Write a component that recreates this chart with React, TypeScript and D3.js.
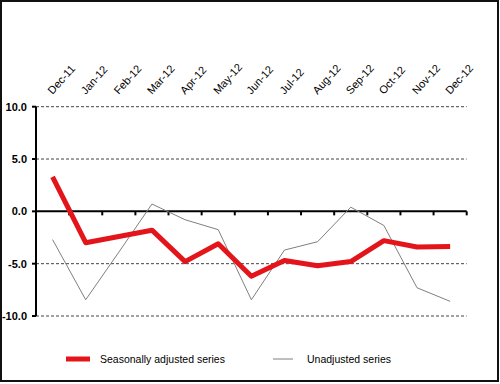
import React from 'react';
import * as d3 from 'd3';

const months = [
  'Dec-11', 'Jan-12', 'Feb-12', 'Mar-12', 'Apr-12', 'May-12', 'Jun-12',
  'Jul-12', 'Aug-12', 'Sep-12', 'Oct-12', 'Nov-12', 'Dec-12',
];

const seasonallyAdjusted = [3.3, -3.0, -2.4, -1.8, -4.8, -3.1, -6.2, -4.7, -5.2, -4.8, -2.8, -3.4, -3.35];
const unadjusted = [-2.7, -8.45, -3.9, 0.7, -0.8, -1.75, -8.45, -3.7, -2.9, 0.4, -1.35, -7.3, -8.6];

const yTicks = [10, 5, 0, -5, -10];
const gridTicks = [10, 5, -5, -10];

const W = 500;
const H = 384;
const FONT = '"Liberation Sans", Arial, sans-serif';

export default function App() {
  const x = d3.scaleBand<string>().domain(months).range([36, 466.7]);
  const y = d3.scaleLinear().domain([-10, 10]).range([316, 106.7]);
  const cx = (m: string) => (x(m) ?? 0) + x.bandwidth() / 2;

  const line = d3
    .line<number>()
    .x((_, i) => cx(months[i]))
    .y((d) => y(d));

  const boundaries = months.map((m) => (x(m) ?? 0) + x.bandwidth());

  return (
    <svg
      width={W}
      height={H}
      style={{ position: 'absolute', left: 0, top: 0, background: '#fff' }}
      fontFamily={FONT}
    >
      <rect x={0} y={0} width={W} height={H} fill="#fff" />
      <rect x={1} y={1} width={497} height={380} fill="none" stroke="#111" strokeWidth={2} />

      {/* dashed grid */}
      {gridTicks.map((t) => (
        <line
          key={t}
          x1={36}
          x2={466.7}
          y1={y(t)}
          y2={y(t)}
          stroke="#444"
          strokeWidth={1}
          strokeDasharray="3,2"
        />
      ))}

      {/* y axis */}
      <line x1={36} x2={36} y1={y(10)} y2={y(-10)} stroke="#000" strokeWidth={2} />
      {yTicks.map((t) => (
        <g key={t}>
          <line x1={32} x2={36} y1={y(t)} y2={y(t)} stroke="#000" strokeWidth={2} />
          <text
            x={27}
            y={y(t) + 4}
            textAnchor="end"
            fontSize={11}
            fontWeight="bold"
            fill="#000"
          >
            {t.toFixed(1)}
          </text>
        </g>
      ))}

      {/* zero line with category ticks */}
      <line x1={36} x2={466.7} y1={y(0)} y2={y(0)} stroke="#000" strokeWidth={2} />
      {boundaries.map((b, i) => (
        <line key={i} x1={b} x2={b} y1={y(0)} y2={y(0) + 4} stroke="#000" strokeWidth={2} />
      ))}

      {/* month labels */}
      {months.map((m) => (
        <text
          key={m}
          transform={`translate(${cx(m)},${95}) rotate(-48)`}
          fontSize={11}
          fill="#000"
        >
          {m}
        </text>
      ))}

      {/* series */}
      <path d={line(unadjusted) ?? ''} fill="none" stroke="#7f7f7f" strokeWidth={1} />
      <path
        d={line(seasonallyAdjusted) ?? ''}
        fill="none"
        stroke="#e3151b"
        strokeWidth={5}
        strokeLinejoin="round"
      />

      {/* legend */}
      <line x1={66} x2={90} y1={359} y2={359} stroke="#e3151b" strokeWidth={5} />
      <text x={100} y={363} fontSize={10.5} fill="#000">
        Seasonally adjusted series
      </text>
      <line x1={273} x2={293} y1={359} y2={359} stroke="#7f7f7f" strokeWidth={1} />
      <text x={307} y={363} fontSize={10.5} fill="#000">
        Unadjusted series
      </text>
    </svg>
  );
}
